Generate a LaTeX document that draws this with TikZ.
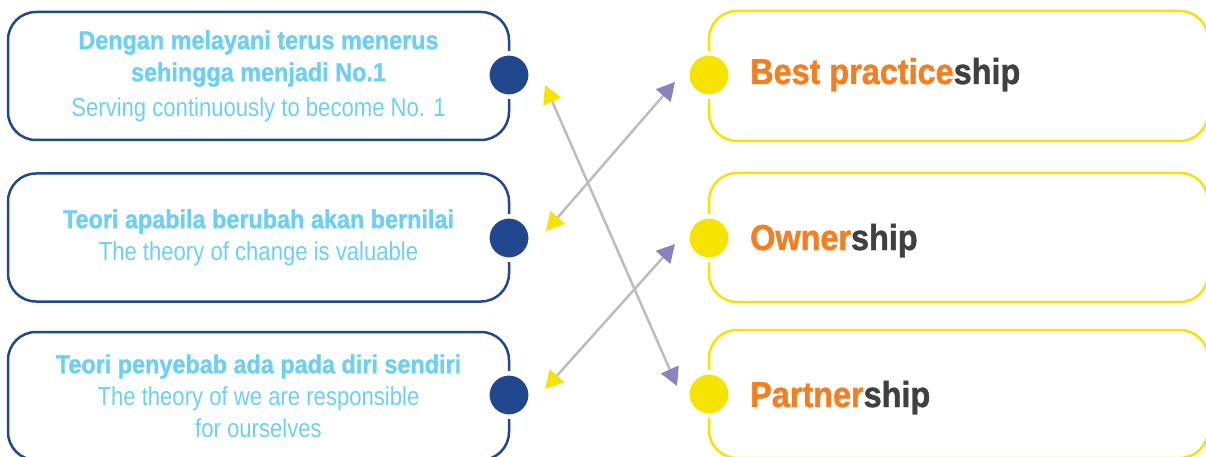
\documentclass[tikz,border=0pt]{standalone}
\usepackage{fontspec}
\setmainfont[UprightFeatures={FakeStretch=0.85},BoldFeatures={FakeStretch=0.9,FakeBold=1.2}]{Liberation Sans}
\usetikzlibrary{arrows.meta}
\definecolor{dblue}{HTML}{21478F}
\definecolor{lblue}{HTML}{6DCFF6}
\definecolor{tyellow}{HTML}{F7E300}
\definecolor{torange}{HTML}{F47E20}
\definecolor{tdark}{HTML}{404041}
\definecolor{tpurple}{HTML}{8A84BE}
\definecolor{tgray}{HTML}{BDBDBD}
\begin{document}
\begin{tikzpicture}[x=1pt,y=-1pt,
  lbox/.style={draw=dblue, line width=2.5pt, rounded corners=28pt, minimum width=501pt, minimum height=128pt, inner sep=0pt, text=lblue, align=center, font=\fontsize{26}{32}\selectfont},
  rbox/.style={draw=tyellow, line width=2.5pt, rounded corners=28pt, minimum width=499pt, inner sep=0pt},
  ldot/.style={circle, fill=dblue, draw=white, line width=4.5pt, minimum size=43.5pt, inner sep=0pt},
  rdot/.style={circle, fill=tyellow, draw=white, line width=4.5pt, minimum size=43.5pt, inner sep=0pt},
  rlabel/.style={anchor=base west, inner sep=0pt, font=\fontsize{36}{40}\selectfont\bfseries},
  conn/.style={draw=tgray, line width=2.5pt, arrows={Triangle[color=tyellow,length=18pt,width=19pt]-Triangle[color=tpurple,length=18pt,width=19pt]}}
]
\useasboundingbox (0,0) rectangle (1206,457);
\clip (0,0) rectangle (1206,457);

% left boxes
\node[lbox] (L1) at (258.5,76) {\textbf{Dengan melayani terus menerus}\\\textbf{sehingga menjadi No.1}\\[3pt]Serving continuously to become No. 1};
\node[lbox] (L2) at (258.5,237.5) {\textbf{Teori apabila berubah akan bernilai}\\The theory of change is valuable};
\node[lbox] (L3) at (258.5,396) {\textbf{Teori penyebab ada pada diri sendiri}\\The theory of we are responsible\\for ourselves};

% right boxes
\node[rbox, minimum height=130pt] (R1) at (958.5,76) {};
\node[rbox, minimum height=129pt] (R2) at (958.5,237.5) {};
\node[rbox, minimum height=128pt] (R3) at (958.5,394) {};

% dots
\node[ldot] (d1) at (509,75) {};
\node[ldot] (d2) at (509,238) {};
\node[ldot] (d3) at (509,395) {};
\node[rdot] (e1) at (709,75) {};
\node[rdot] (e2) at (709,238) {};
\node[rdot] (e3) at (709,394) {};

% right labels
\node[rlabel] (t1) at (750,84) {\textcolor{torange}{Best practice}\textcolor{tdark}{ship}};
\node[rlabel] (t2) at (750,250) {\textcolor{torange}{Owner}\textcolor{tdark}{ship}};
\node[rlabel] (t3) at (750,407) {\textcolor{torange}{Partner}\textcolor{tdark}{ship}};

% connectors
\coordinate (a1s) at (545,85);
\coordinate (a1e) at (677,386);
\coordinate (a2s) at (546,231);
\coordinate (a2e) at (675,82);
\coordinate (a3s) at (545,389);
\coordinate (a3e) at (675,244);
\draw[conn] (a1s) -- (a1e);
\draw[conn] (a2s) -- (a2e);
\draw[conn] (a3s) -- (a3e);
\end{tikzpicture}
\end{document}
